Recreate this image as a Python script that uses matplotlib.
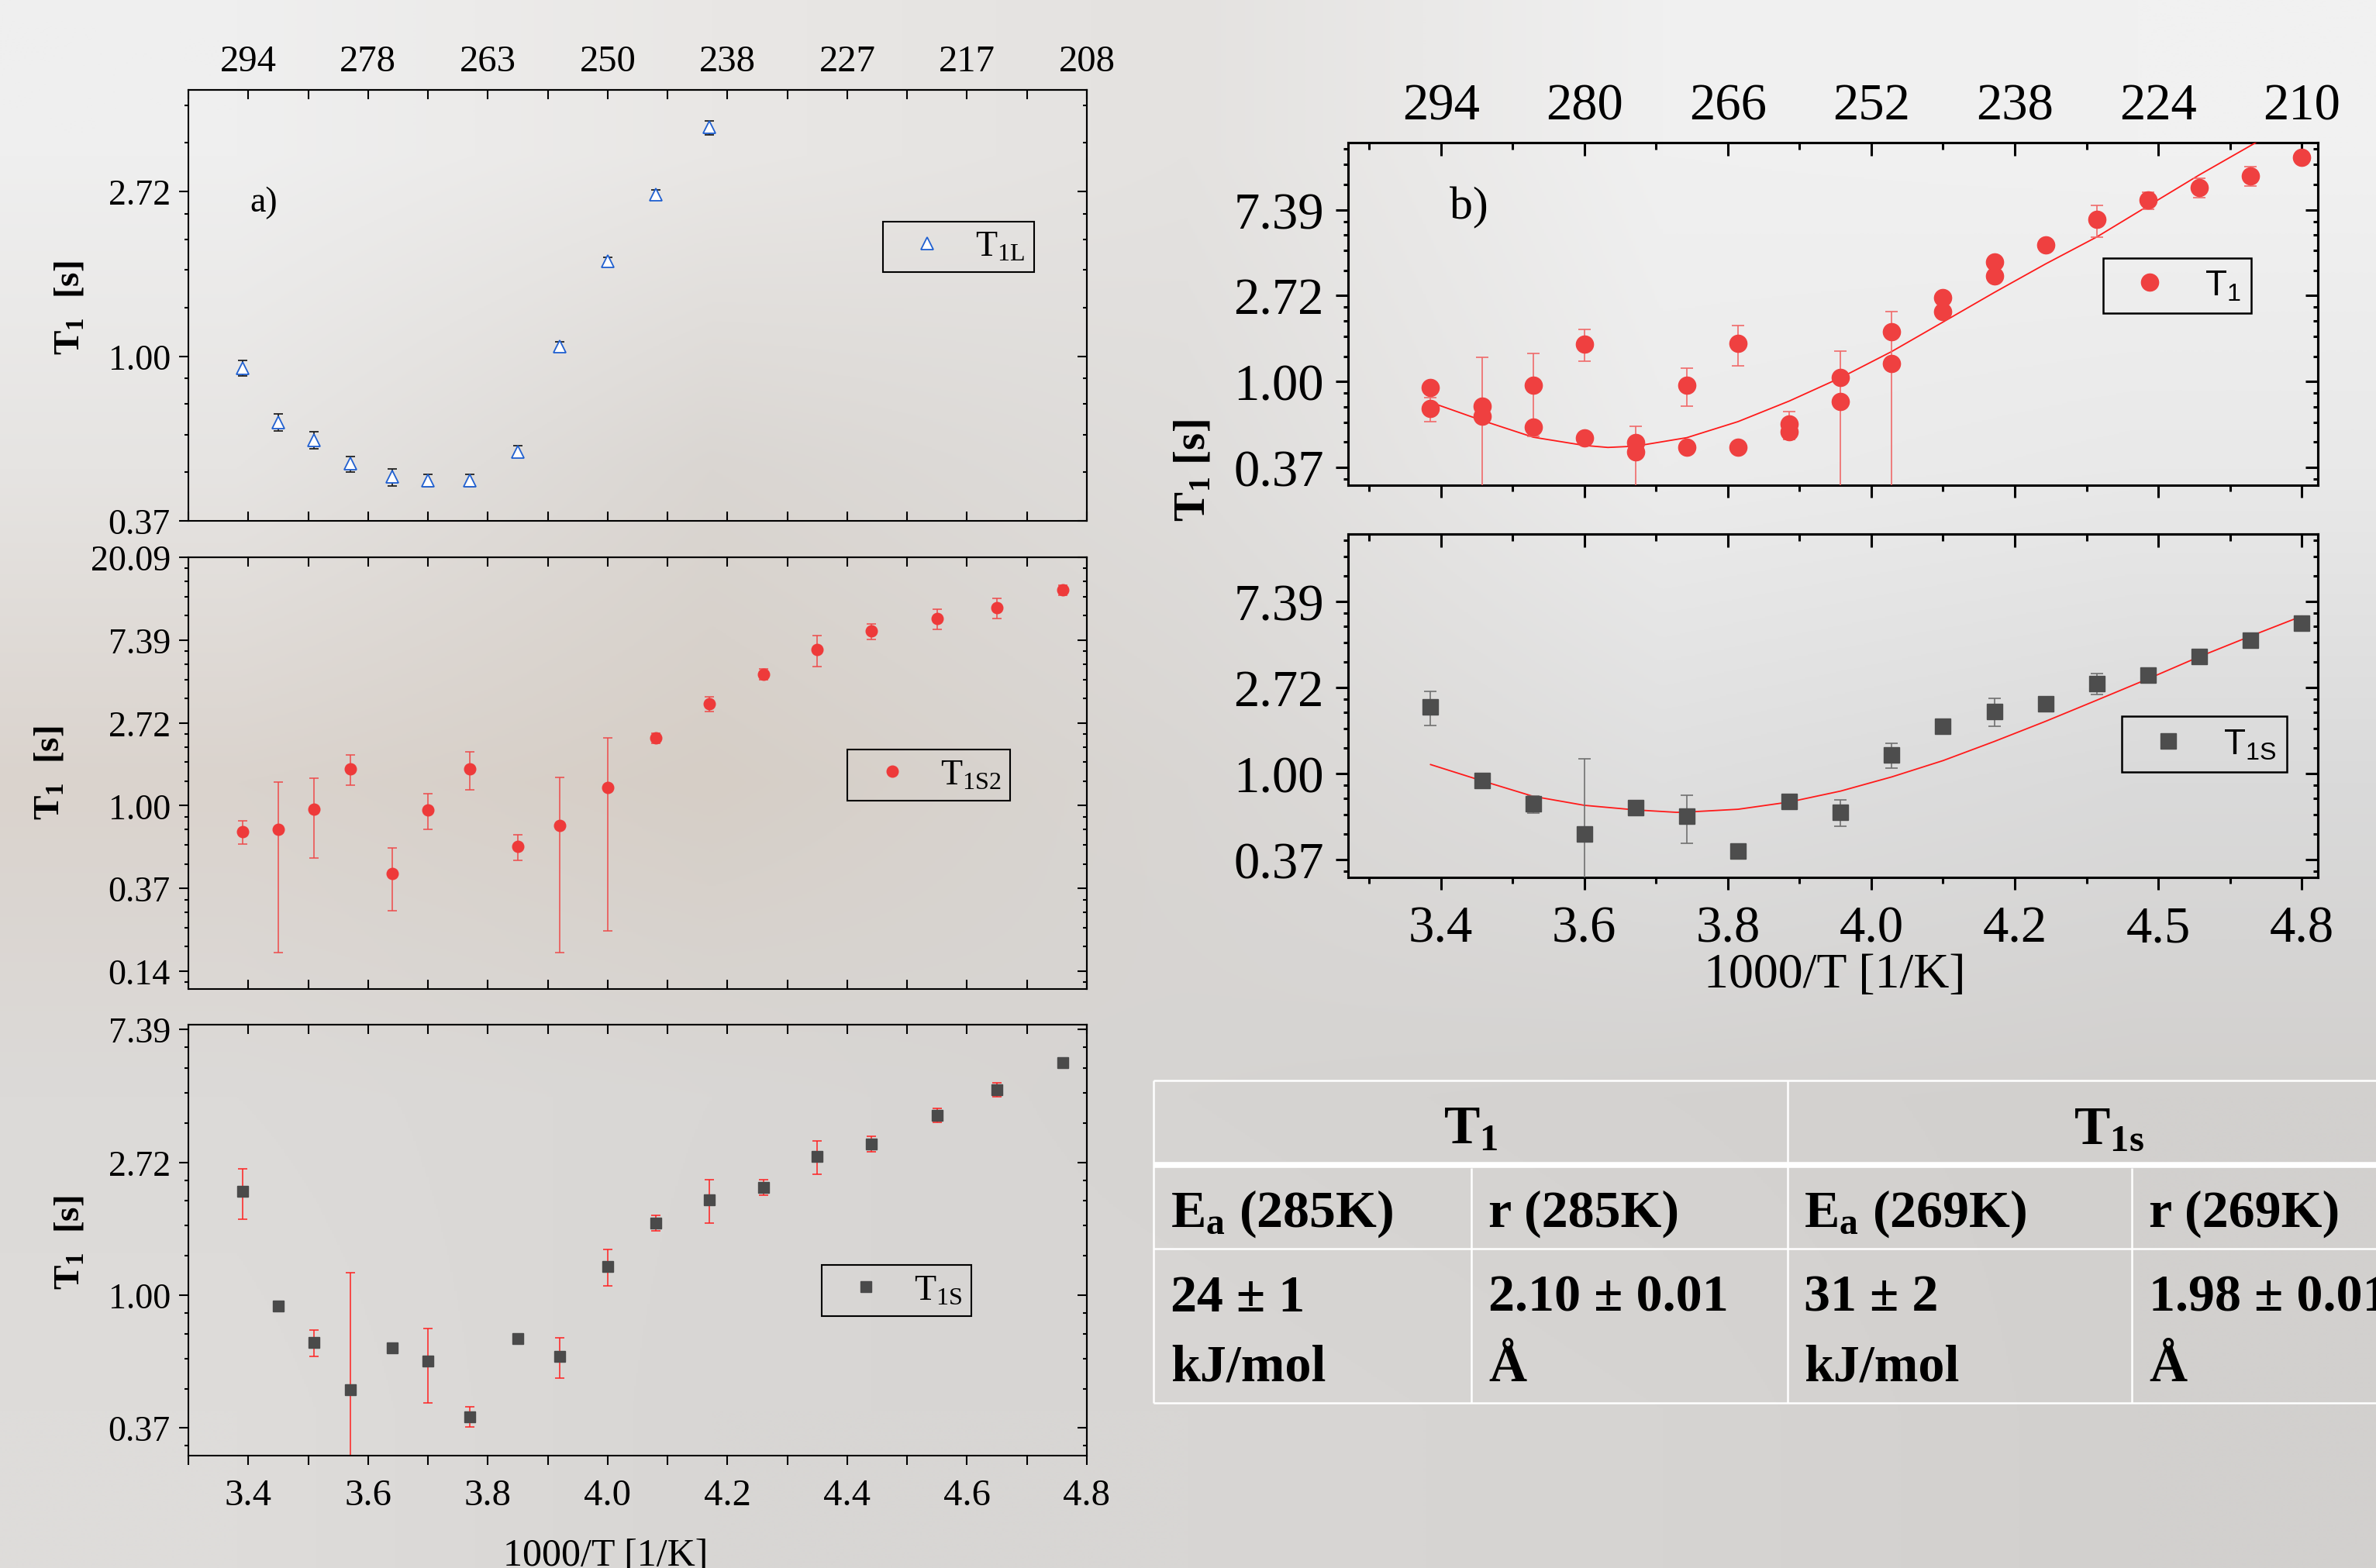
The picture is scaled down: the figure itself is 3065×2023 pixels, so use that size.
import numpy as np
import matplotlib
matplotlib.use('Agg')
import matplotlib.pyplot as plt
from matplotlib.lines import Line2D
from matplotlib.ticker import FixedLocator, NullFormatter

W, H, DPI = 3065, 2024, 100

plt.rcParams['font.family'] = 'Liberation Serif'
plt.rcParams['mathtext.fontset'] = 'custom'
plt.rcParams['mathtext.rm'] = 'Liberation Serif'
plt.rcParams['mathtext.default'] = 'regular'

# ---------------- panel a data (x = 1000/T [1/K]) ----------------
a_x = [3.39, 3.45, 3.51, 3.57, 3.64, 3.70, 3.77, 3.85, 3.92, 4.00,
       4.08, 4.17, 4.26, 4.35, 4.44, 4.55, 4.65, 4.76]
t1l = [0.93, 0.67, 0.60, 0.52, 0.48, 0.47, 0.47, 0.56, 1.06, 1.78, 2.67, 4.01]
t1l_err = [0.043, 0.036, 0.031, 0.024, 0.025, 0.017, 0.017, 0.02, 0.03, 0.045, 0.08, 0.17]
t1s2 = [0.73, 0.75, 0.96, 1.56, 0.44, 0.95, 1.56, 0.61, 0.79, 1.24,
        2.26, 3.43, 4.90, 6.56, 8.23, 9.55, 10.9, 13.5]
t1s2_err = [0.10, 0.58, 0.43, 0.28, 0.16, 0.20, 0.35, 0.095, 0.62, 1.02,
            0.13, 0.30, 0.32, 1.22, 0.78, 1.17, 1.33, 0.78]
t1s = [2.18, 0.92, 0.70, 0.49, 0.67, 0.61, 0.40, 0.72, 0.63, 1.24,
       1.72, 2.05, 2.25, 2.84, 3.12, 3.88, 4.69, 5.74]
t1s_err = [0.41, 0.01, 0.07, 0.69, 0.02, 0.167, 0.03, 0.01, 0.096, 0.17,
           0.10, 0.33, 0.13, 0.35, 0.18, 0.20, 0.25, 0.10]

# ---------------- panel b data (x = T [K]) ----------------
b_temp = [295, 290, 285, 280, 275, 270, 265, 260, 255, 250,
          245, 240, 235, 230, 225, 220, 215, 210]
b_t1 = [0.73, 0.67, 0.96, 1.55, 0.44, 0.96, 1.56, 0.61, 0.79, 1.23,
        2.25, 3.43, 4.89, 6.58, 8.25, 9.58, 10.98, 13.55]
b_t1_err = [0.10, 0.66, 0.43, 0.28, 0.155, 0.21, 0.355, 0.098, 0.636, 1.02,
            0.05, 0.10, 0.10, 1.21, 0.8, 1.1, 1.26, 0.35]
b_t1_extra = [0.93, 0.75, 0.59, 0.52, 0.49, 0.465, 0.465, 0.56, 1.05, 1.78, 2.66, 4.02]
b_t1s = [2.17, 0.922, 0.699, 0.495, 0.672, 0.607, 0.403, 0.720, 0.637, 1.238,
         1.728, 2.057, 2.25, 2.85, 3.14, 3.90, 4.72, 5.75]
b_t1s_err = [0.42, 0, 0.07, 0.685, 0, 0.166, 0, 0, 0.095, 0.18,
             0, 0.335, 0, 0.35, 0, 0, 0, 0]

# fitted curves
fit1_temp = [295, 290, 285, 280, 277.7, 275, 270, 265, 260, 255,
             250, 245, 240, 235, 230, 225, 220, 214.5]
fit1_val = [0.786, 0.637, 0.524, 0.476, 0.465, 0.472, 0.521, 0.628, 0.798, 1.046,
            1.42, 2.00, 2.82, 3.93, 5.38, 7.72, 11.07, 16.1]
fit2_temp = [295, 290, 285, 280, 275, 271, 270, 265, 260, 255,
             250, 245, 240, 235, 230, 225, 220, 215, 210]
fit2_val = [1.107, 0.917, 0.765, 0.689, 0.653, 0.635, 0.637, 0.658, 0.716, 0.813,
            0.959, 1.159, 1.448, 1.83, 2.34, 3.00, 3.88, 4.93, 6.22]

# table
tbl_header = ['T$_1$', 'T$_{1s}$']
tbl_params = ['E$_a$ (285K)', 'r (285K)', 'E$_a$ (269K)', 'r (269K)']
tbl_values = ['24 ± 1', '2.10 ± 0.01', '31 ± 2', '1.98 ± 0.01']
tbl_units = ['kJ/mol', 'Å', 'kJ/mol', 'Å']

# blurry photo background, approximated by a coarse colour grid
bg_rows = [
    ['#efefef', '#e9e7e5', '#e4e2e0', '#f0f0f0', '#f1f1f1'],
    ['#e6e4e2', '#dad6d2', '#dfdddb', '#ececec', '#e9e9e9'],
    ['#dad3cd', '#d6cec6', '#d9d6d3', '#dfdfdf', '#dadada'],
    ['#dcdad8', '#d9d7d5', '#d6d4d2', '#d4d2d0', '#d2d0ce'],
    ['#dedcda', '#d8d6d4', '#d8d6d4', '#d6d4d2', '#d2d0ce'],
]


def fx(x):
    return x / W


def fy(y):
    return 1 - y / H


def px_axes(x0, y0, x1, y1):
    ax = fig.add_axes([x0 / W, 1 - y1 / H, (x1 - x0) / W, (y1 - y0) / H])
    ax.set_facecolor('none')
    return ax


def e_yaxis(ax, lo, hi, majors, lw, maj_len, min_len, size, pad):
    ax.set_yscale('log', base=np.e)
    ax.set_ylim(np.exp(lo), np.exp(hi))
    vals = [np.exp(k) for k in majors]
    ax.set_yticks(vals, labels=[f'{v:.2f}' for v in vals])
    minors = []
    for k in range(int(np.floor(lo)), int(np.ceil(hi))):
        a, b = np.exp(k), np.exp(k + 1)
        minors += [a + j * (b - a) / 5 for j in range(1, 5)]
    ax.yaxis.set_minor_locator(FixedLocator(minors))
    ax.yaxis.set_minor_formatter(NullFormatter())
    ax.tick_params(axis='y', which='major', direction='out', length=maj_len,
                   width=lw, labelsize=size, pad=pad)
    ax.tick_params(axis='y', which='minor', direction='out', length=min_len, width=lw)
    r = ax.secondary_yaxis('right')
    r.set_yticks(vals)
    r.yaxis.set_minor_locator(FixedLocator(minors))
    r.yaxis.set_major_formatter(NullFormatter())
    r.yaxis.set_minor_formatter(NullFormatter())
    r.tick_params(which='major', direction='in', length=maj_len, width=lw)
    r.tick_params(which='minor', direction='in', length=min_len, width=lw)
    r.spines['right'].set_linewidth(lw)


fig = plt.figure(figsize=(W / DPI, H / DPI), dpi=DPI)

bg = fig.add_axes([0, 0, 1, 1], zorder=-10)
rgb = np.array([[matplotlib.colors.to_rgb(c) for c in row] for row in bg_rows])
bg.imshow(rgb, aspect='auto', interpolation='bilinear', extent=(0, 1, 0, 1))
bg.axis('off')

# ---------------- panel a ----------------
a_major = [3.4, 3.6, 3.8, 4.0, 4.2, 4.4, 4.6, 4.8]
a_minor = [3.3, 3.5, 3.7, 3.9, 4.1, 4.3, 4.5, 4.7]
A_LW, A_LEN = 1.5, 8.6


def a_xaxis(ax, bottom_dir, bottom_labels, top_labels):
    ax.set_xlim(3.3, 4.8)
    ax.set_xticks(a_major, labels=[f'{v:.1f}' for v in a_major] if bottom_labels else [])
    ax.xaxis.set_minor_locator(FixedLocator(a_minor))
    ax.tick_params(axis='x', which='both', direction=bottom_dir, length=A_LEN,
                   width=A_LW, labelsize=35, pad=12)
    t = ax.secondary_xaxis('top')
    if top_labels:
        t.set_xticks(a_major, labels=[f'{1000 / v:.0f}' for v in a_major])
    else:
        t.set_xticks(a_major)
        t.xaxis.set_major_formatter(NullFormatter())
    t.xaxis.set_minor_locator(FixedLocator(a_minor))
    t.tick_params(which='both', direction='in', length=A_LEN, width=A_LW,
                  labelsize=35, pad=11)
    t.spines['top'].set_linewidth(A_LW)
    for s in ax.spines.values():
        s.set_linewidth(A_LW)


def a_legend(ax, handle, label, pos):
    leg = ax.legend([handle], [label], loc='center', bbox_to_anchor=pos, fontsize=33,
                    frameon=True, fancybox=False, edgecolor='black', facecolor='none',
                    framealpha=1, borderpad=0.25, handlelength=2.0,
                    handletextpad=0.35, borderaxespad=0)
    leg.get_frame().set_linewidth(1.5)


ax1 = px_axes(243, 117, 1402, 673)
ax1.errorbar(a_x[:len(t1l)], t1l, yerr=t1l_err, fmt='^', ms=11, mfc='white',
             mec='#1f5fd0', mew=1.3, ecolor='#222222', elinewidth=1.3,
             capsize=4, capthick=1.3)
e_yaxis(ax1, -1.0, 1.617, [-1, 0, 1], A_LW, A_LEN, 3.6, 33, 8)
a_xaxis(ax1, 'in', False, True)
a_legend(ax1, Line2D([], [], ls='none', marker='^', ms=11, mfc='white',
                     mec='#1f5fd0', mew=1.3), 'T$_{1L}$', (0.857, 0.636))

ax2 = px_axes(243, 720, 1402, 1277)
ax2.errorbar(a_x, t1s2, yerr=t1s2_err, fmt='o', ms=10.5, color='#ee3a3a',
             ecolor='#ee4a4a', elinewidth=1.1, capsize=4, capthick=1.1)
e_yaxis(ax2, -2.216, 3.0, [-2, -1, 0, 1, 2, 3], A_LW, A_LEN, 3.6, 33, 8)
a_xaxis(ax2, 'in', False, False)
a_legend(ax2, Line2D([], [], ls='none', marker='o', ms=10.5, color='#ee3a3a'),
         'T$_{1S2}$', (0.824, 0.4955))

ax3 = px_axes(243, 1323, 1402, 1879)
ax3.errorbar(a_x, t1s, yerr=t1s_err, fmt='s', ms=9.5, color='#4a4a4a',
             ecolor='#ff2020', elinewidth=1.1, capsize=4, capthick=1.1)
e_yaxis(ax3, -1.209, 2.036, [-1, 0, 1, 2], A_LW, A_LEN, 3.6, 33, 8)
a_xaxis(ax3, 'out', True, False)
a_legend(ax3, Line2D([], [], ls='none', marker='s', ms=9.5, color='#4a4a4a'),
         'T$_{1S}$', (0.788, 0.383))

fig.text(fx(340), fy(262), 'a)', fontsize=33, ha='center', va='center')
for yc, xc in [(397, 90), (997, 64), (1603, 90)]:
    fig.text(fx(xc), fy(yc), 'T$_1$  [s]', fontsize=34, fontweight='bold',
             rotation=90, ha='center', va='center')
fig.text(fx(781), fy(1985), '1000/T [1/K]', fontsize=36, ha='center', va='top')

# ---------------- panel b ----------------
b_major = [294, 280, 266, 252, 238, 224, 210]
b_minor = [301, 287, 273, 259, 245, 231, 217]
B_LW = 2.2


def b_xaxis(ax, bottom_labels):
    ax.set_xlim(303.05, 208.43)
    ax.set_xticks(b_major, labels=[f'{1000 / t:.1f}' for t in b_major] if bottom_labels else [])
    ax.xaxis.set_minor_locator(FixedLocator(b_minor))
    ax.tick_params(axis='x', which='major', direction='out', length=11.5,
                   width=B_LW, labelsize=48, pad=14)
    ax.tick_params(axis='x', which='minor', direction='out', length=6, width=B_LW)
    t = ax.secondary_xaxis('top')
    if ax is axb1:
        t.set_xticks(b_major, labels=[str(v) for v in b_major])
    else:
        t.set_xticks(b_major)
        t.xaxis.set_major_formatter(NullFormatter())
    t.xaxis.set_minor_locator(FixedLocator(b_minor))
    t.tick_params(which='major', direction='in', length=12.5, width=B_LW,
                  labelsize=48, pad=12)
    t.tick_params(which='minor', direction='in', length=6.5, width=B_LW)
    t.spines['top'].set_linewidth(B_LW)
    for s in ax.spines.values():
        s.set_linewidth(B_LW)


def b_legend(ax, handle, label, pos):
    leg = ax.legend([handle], [label], loc='center', bbox_to_anchor=pos,
                    prop={'family': 'Liberation Sans', 'size': 33},
                    frameon=True, fancybox=False, edgecolor='black', facecolor='none',
                    framealpha=1, borderpad=0.3, handlelength=2.0,
                    handletextpad=0.55, borderaxespad=0)
    leg.get_frame().set_linewidth(1.8)


axb1 = px_axes(1739, 185, 2990, 627)
axb1.plot(fit1_temp, fit1_val, color='#ff1a1a', lw=1.3, zorder=3)
axb1.errorbar(b_temp, b_t1, yerr=b_t1_err, fmt='o', ms=16, color='#ef4040',
              ecolor='#f06a6a', elinewidth=1.2, capsize=6, capthick=1.2, zorder=4)
axb1.errorbar(b_temp[:len(b_t1_extra)], b_t1_extra, fmt='o', ms=16,
              color='#ef4040', zorder=4)
e_yaxis(axb1, -1.205, 2.78, [-1, 0, 1, 2], B_LW, 11.5, 4.3, 48, 11)
b_xaxis(axb1, False)
b_legend(axb1, Line2D([], [], ls='none', marker='o', ms=16, color='#ef4040'),
         'T$_1$', (0.855, 0.583))

axb2 = px_axes(1739, 690, 2990, 1133)
axb2.plot(fit2_temp, fit2_val, color='#ff1a1a', lw=1.3, zorder=3)
axb2.errorbar(b_temp, b_t1s, yerr=b_t1s_err, fmt='s', ms=14.5, color='#4d4d4d',
              ecolor='#707070', elinewidth=1.2, capsize=6, capthick=1.2, zorder=4)
e_yaxis(axb2, -1.211, 2.783, [-1, 0, 1, 2], B_LW, 11.5, 4.3, 48, 11)
b_xaxis(axb2, True)
b_legend(axb2, Line2D([], [], ls='none', marker='s', ms=14.5, color='#4d4d4d'),
         'T$_{1S}$', (0.883, 0.388))

fig.text(fx(1895), fy(268), 'b)', fontsize=43, ha='center', va='center')
fig.text(fx(1540), fy(607), 'T$_1$ [s]', fontsize=41, fontweight='bold',
         rotation=90, ha='center', va='center')
fig.text(fx(2367), fy(1259), '1000/T [1/K]', fontsize=46, ha='center', va='center')

# ---------------- table ----------------
def hline(y, x0, x1, lw):
    fig.add_artist(Line2D([fx(x0), fx(x1)], [fy(y), fy(y)], transform=fig.transFigure,
                          color='white', lw=lw, solid_capstyle='butt'))


def vline(x, y0, y1, lw):
    fig.add_artist(Line2D([fx(x), fx(x)], [fy(y0), fy(y1)], transform=fig.transFigure,
                          color='white', lw=lw, solid_capstyle='butt'))


hline(1395, 1488, W, 1.8)
hline(1504, 1488, W, 5.5)
hline(1612, 1488, W, 1.8)
hline(1811, 1488, W, 1.8)
vline(1488, 1395, 1811, 1.8)
vline(2306, 1395, 1811, 1.8)
vline(1898, 1508, 1811, 1.8)
vline(2750, 1508, 1811, 1.8)

for xc, txt in zip([1897, 2720], tbl_header):
    fig.text(fx(xc), fy(1475), txt, fontsize=50, fontweight='bold',
             ha='center', va='baseline')
for xl, p, v, u in zip([1510, 1920, 2327, 2772], tbl_params, tbl_values, tbl_units):
    fig.text(fx(xl), fy(1583), p, fontsize=49, fontweight='bold', ha='left', va='baseline')
    fig.text(fx(xl), fy(1692), v, fontsize=49, fontweight='bold', ha='left', va='baseline')
    fig.text(fx(xl), fy(1782), u, fontsize=49, fontweight='bold', ha='left', va='baseline')

fig.savefig('out.png', dpi=DPI)
